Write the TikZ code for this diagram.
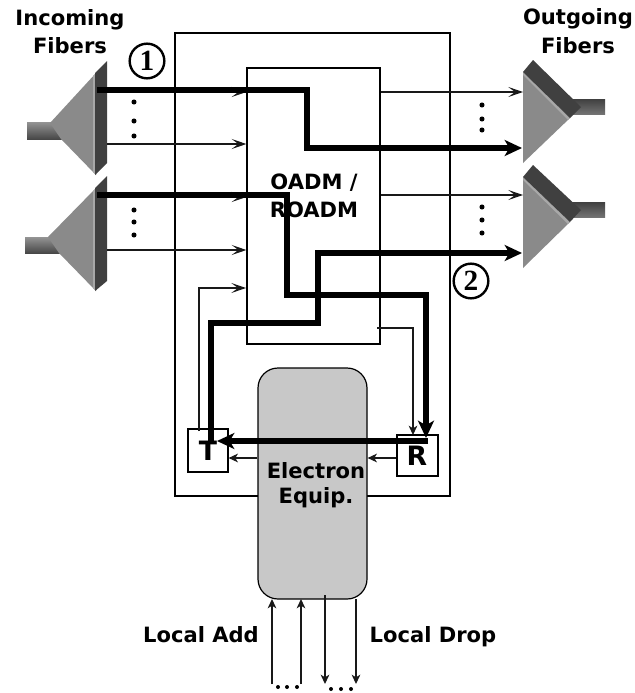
\documentclass[tikz,border=0pt]{standalone}
\usepackage{fontspec}
\setmainfont{DejaVu Sans}
\newfontfamily\numfont{Liberation Serif}
\usetikzlibrary{arrows.meta}
\definecolor{conemid}{HTML}{8A8A8A}
\definecolor{conelight}{HTML}{A8A8A8}
\definecolor{conedark}{HTML}{404040}
\definecolor{eqfill}{HTML}{C8C8C8}
\tikzset{
  x=0.75pt,y=-0.75pt,
  boxline/.style={draw=black,line width=0.9pt,inner sep=0pt},
  thinarrow/.style={draw=black!90,line width=0.95pt,-{Stealth[length=11pt,width=7.5pt,inset=5pt]}},
  shortarrow/.style={draw=black!90,line width=0.95pt,-{Stealth[length=7pt,width=6.5pt,inset=2pt]}},
  thickpath/.style={draw=black,line width=4.2pt,line join=miter},
  thickarrow/.style={thickpath,-{Stealth[length=13pt,width=12pt,inset=3.5pt]}},
  label/.style={font=\fontsize{15.8}{17}\selectfont\bfseries,text=black,inner sep=0pt},
  biglabel/.style={font=\fontsize{20}{21}\selectfont\bfseries,text=black,inner sep=0pt},
  numcircle/.style={circle,draw=black,line width=1.8pt,minimum size=26pt,inner sep=0pt,font=\fontsize{22}{23}\selectfont\numfont\bfseries},
  vdot/.style={circle,fill=black,minimum size=3.8pt,inner sep=0pt}
}
\begin{document}
\begin{tikzpicture}
\useasboundingbox (0,0) rectangle (635,693);

% fibre bundles
\path[top color=black!42,bottom color=black!72] (27,122) rectangle (62,139);
\path[top color=black!42,bottom color=black!72] (25,237) rectangle (60,253);
\path[top color=black!75,bottom color=black!55] (572,99) rectangle (605,114);
\path[top color=black!75,bottom color=black!55] (572,202) rectangle (605,217);

\fill[conemid] (50,123) -- (96,73) -- (96,175) -- (61,139) -- cycle;
\fill[conelight] (93,76) -- (96,73) -- (96,175) -- (93,172) -- cycle;
\fill[conedark] (95,73) -- (107,61) -- (107,163) -- (95,175) -- cycle;
\fill[conemid] (48,237) -- (96,188) -- (96,291) -- (59,253) -- cycle;
\fill[conelight] (93,191) -- (96,188) -- (96,291) -- (93,288) -- cycle;
\fill[conedark] (95,188) -- (107,176) -- (107,281) -- (95,291) -- cycle;

\fill[conemid] (523,72) -- (570,118) -- (523,163) -- cycle;
\fill[conelight] (523,72) -- (570,118) -- (568,120) -- (523,75) -- cycle;
\fill[conedark] (523,72) -- (533,60) -- (581,107) -- (570,118) -- cycle;
\fill[conemid] (523,177) -- (570,222) -- (523,268) -- cycle;
\fill[conelight] (523,177) -- (570,222) -- (568,224) -- (523,180) -- cycle;
\fill[conedark] (523,177) -- (533,165) -- (581,210) -- (570,222) -- cycle;

% boxes
\node[boxline,minimum width=206.25pt,minimum height=347.25pt] (outer) at (312.5,264.5) {};
\node[boxline,minimum width=99.75pt,minimum height=207pt] (oadm) at (313.5,206) {};
\node[boxline,fill=eqfill,rounded corners=15pt,minimum width=81.75pt,minimum height=173.25pt] (equip) at (312.5,483.5) {};
\node[boxline,minimum width=30pt,minimum height=32.25pt] (tbox) at (208,450.5) {};
\node[boxline,minimum width=30.75pt,minimum height=30.75pt] (rbox) at (417.5,455.5) {};

% named ends
\coordinate (a1) at (107,92);   \coordinate (a2) at (107,144);
\coordinate (a3) at (107,197);  \coordinate (a4) at (107,250);
\coordinate (o1) at (523,92);   \coordinate (o2) at (523,195);
\coordinate (h1) at (272,684);  \coordinate (h2) at (301,684);
\coordinate (h3) at (325,684);  \coordinate (h4) at (356,684);
\coordinate (e1) at (272,599);  \coordinate (e2) at (301,599);
\coordinate (e3) at (325,595);  \coordinate (e4) at (356,599);
\coordinate (s1) at (97,90);    \coordinate (s2) at (97,195);
\coordinate (u1) at (522,148);  \coordinate (u2) at (522,253);
\coordinate (t1) at (199,431);  \coordinate (r1) at (377,328);
\coordinate (rt) at (413,435);

% thin connectors
\draw[thinarrow] (a1) -- (a1 -| oadm.west);
\draw[thinarrow] (a2) -- (a2 -| oadm.west);
\draw[thinarrow] (a3) -- (a3 -| oadm.west);
\draw[thinarrow] (a4) -- (a4 -| oadm.west);
\draw[thinarrow] (o1 -| oadm.east) -- (o1);
\draw[thinarrow] (o2 -| oadm.east) -- (o2);
\draw[thinarrow] (t1) |- (246,288);
\draw[shortarrow] (r1) -| (rt);
\draw[shortarrow] (equip.west |- 0,458) -- (tbox.east |- 0,458);
\draw[shortarrow] (rbox.west |- 0,458) -- (equip.east |- 0,458);
\draw[shortarrow] (h1) -- (e1);
\draw[shortarrow] (h2) -- (e2);
\draw[shortarrow] (e3) -- (h3);
\draw[shortarrow] (e4) -- (h4);

% thick connectors
\draw[thickarrow] (s1) -| (307,148) -- (u1);
\draw[thickarrow] (s2) -| (287,295) -| (426,438);
\draw[thickarrow] (428,441) -- (217,441);
\draw[thickarrow] (211,442) |- (318,323) |- (u2);

% dots
\foreach \n/\x/\y in {a/134/102,b/134/121,c/134/136,d/134/210,e/134/222,f/134/235,g/482/105,h/482/119,i/482/130,j/482/207,k/482/220,l/482/233}
  \node[vdot] (dot\n) at (\x,\y) {};
\foreach \n/\x/\y in {a/278/687,b/287/687,c/297/687,d/331/689,e/341/689,f/351/689}
  \node[vdot,minimum size=3pt] (hdot\n) at (\x,\y) {};

% labels
\node[numcircle] (n1) at (147,61) {1};
\node[numcircle] (n2) at (471,281) {2};
\node[label] (l1) at (70,20) {Incoming};
\node[label] (l2) at (70,46) {Fibers};
\node[label] (l3) at (578,19) {Outgoing};
\node[label] (l4) at (578,46) {Fibers};
\node[label] (l5) at (314,183) {OADM /};
\node[label] (l6) at (314,210) {ROADM};
\node[label] (l7) at (316,471) {Electron};
\node[label] (l8) at (316,498) {Equip.};
\node[biglabel] (l9) at (208,451) {T};
\node[biglabel] (l10) at (417,456) {R};
\node[label] (l11) at (201,635) {Local Add};
\node[label] (l12) at (433,637) {Local Drop};
\end{tikzpicture}
\end{document}
